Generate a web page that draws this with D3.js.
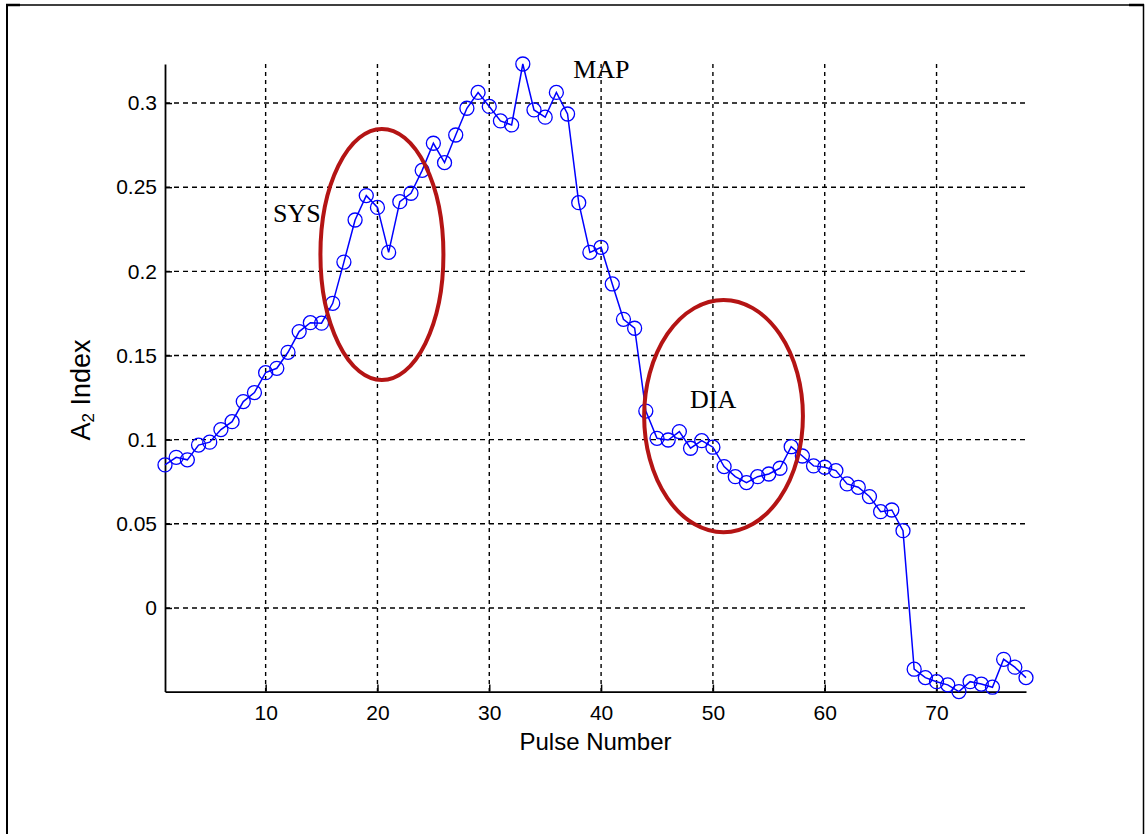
<!DOCTYPE html>
<html>
<head>
<meta charset="utf-8">
<script src="https://cdnjs.cloudflare.com/ajax/libs/d3/7.8.5/d3.min.js"></script>
<style>
  body { margin: 0; background: #fff; }
  svg { display: block; }
  .tick text { font-family: Arial, "Liberation Sans", sans-serif; font-size: 21px; fill: #000; }
  .axis-label { font-family: Arial, "Liberation Sans", sans-serif; fill: #000; }
  .note { font-family: "Liberation Serif", "Times New Roman", serif; font-size: 26px; fill: #000; }
</style>
</head>
<body>
<div id="chart"></div>
<script>
//DATA
var pulse = [1, 2, 3, 4, 5, 6, 7, 8, 9, 10, 11, 12, 13, 14, 15, 16, 17, 18, 19, 20,
  21, 22, 23, 24, 25, 26, 27, 28, 29, 30, 31, 32, 33, 34, 35, 36, 37, 38, 39, 40,
  41, 42, 43, 44, 45, 46, 47, 48, 49, 50, 51, 52, 53, 54, 55, 56, 57, 58, 59, 60,
  61, 62, 63, 64, 65, 66, 67, 68, 69, 70, 71, 72, 73, 74, 75, 76, 77, 78];

var a2Index = [0.085, 0.0895, 0.088, 0.0968, 0.0985, 0.106, 0.1107, 0.1226, 0.128, 0.1398,
  0.1424, 0.1519, 0.1642, 0.1695, 0.1692, 0.181, 0.2055, 0.2305, 0.245, 0.238,
  0.2113, 0.2414, 0.2464, 0.260, 0.2761, 0.2646, 0.281, 0.2969, 0.3063, 0.298,
  0.2894, 0.287, 0.3232, 0.2959, 0.2916, 0.3063, 0.2935, 0.2408, 0.2113, 0.2143,
  0.1925, 0.1715, 0.1662, 0.117, 0.1008, 0.0998, 0.1048, 0.0949, 0.0994, 0.0955,
  0.084, 0.078, 0.0745, 0.078, 0.0796, 0.083, 0.0958, 0.0903, 0.0844, 0.0836,
  0.0816, 0.0737, 0.0717, 0.0662, 0.0572, 0.0582, 0.0459, -0.0364, -0.0414, -0.0438,
  -0.0457, -0.0497, -0.0438, -0.0452, -0.0471, -0.0305, -0.0352, -0.0414];

var xTickValues = [10, 20, 30, 40, 50, 60, 70];
var yTickValues = [0, 0.05, 0.1, 0.15, 0.2, 0.25, 0.3];
var yTickLabels = ['0', '0.05', '0.1', '0.15', '0.2', '0.25', '0.3'];

//annotations, in data units (pulse / index)
var noteText = ['SYS', 'MAP', 'DIA'];
var notePulse = [10.66, 37.5, 47.96];
var noteIndex = [0.2293, 0.315, 0.1188];

var ringPulse = [20.4, 50.95];
var ringIndex = [0.210, 0.114];
var ringPulseRadius = [5.5, 7.1];
var ringIndexRadius = [0.0746, 0.069];

//SET UP
var width = 1145,
    height = 834;

var margin = {left: 165, right: 119, top: 64, bottom: 142.4};

var svg = d3.select('#chart').append('svg')
    .attr('width', width)
    .attr('height', height);

svg.append('rect')
    .attr('width', width)
    .attr('height', height)
    .attr('fill', '#fff');

//page frame (table cell border)
svg.append('path')
    .attr('d', 'M7,' + (height + 2) + 'V5H1143.5V' + (height + 2))
    .attr('fill', 'none')
    .attr('stroke', '#000')
    .attr('stroke-width', 1.5);
svg.append('line').attr('x1', 6).attr('x2', 20).attr('y1', 5).attr('y2', 5)
    .attr('stroke', '#000').attr('stroke-width', 2.5);
svg.append('line').attr('x1', 1129).attr('x2', 1144).attr('y1', 5).attr('y2', 5)
    .attr('stroke', '#000').attr('stroke-width', 2.5);
svg.append('line').attr('x1', 7).attr('x2', 7).attr('y1', 5).attr('y2', height)
    .attr('stroke', '#000').attr('stroke-width', 2);

var x = d3.scaleLinear()
    .domain(d3.extent(pulse))
    .range([margin.left, width - margin.right]);

var y = d3.scaleLinear()
    .domain(d3.extent(a2Index))
    .range([height - margin.bottom, margin.top]);

//GRID
var grid = svg.append('g')
    .attr('stroke', '#000')
    .attr('stroke-width', 1.4)
    .attr('stroke-dasharray', '5,4');

grid.selectAll('.hgrid')
    .data(yTickValues)
  .enter().append('line')
    .attr('class', 'hgrid')
    .attr('x1', x.range()[0])
    .attr('x2', x.range()[1])
    .attr('y1', function (d) { return y(d); })
    .attr('y2', function (d) { return y(d); });

grid.selectAll('.vgrid')
    .data(xTickValues)
  .enter().append('line')
    .attr('class', 'vgrid')
    .attr('stroke-dasharray', '4,4')
    .attr('x1', function (d) { return x(d); })
    .attr('x2', function (d) { return x(d); })
    .attr('y1', y.range()[1])
    .attr('y2', y.range()[0]);

//AXES
var xAxis = d3.axisBottom(x)
    .tickValues(xTickValues)
    .tickSizeInner(-7)
    .tickSizeOuter(0)
    .tickPadding(13);

var yAxis = d3.axisLeft(y)
    .tickValues(yTickValues)
    .tickFormat(function (d, i) { return yTickLabels[i]; })
    .tickSizeInner(-7)
    .tickSizeOuter(0)
    .tickPadding(8);

var gx = svg.append('g')
    .attr('transform', 'translate(0,' + y.range()[0] + ')')
    .call(xAxis);

var gy = svg.append('g')
    .attr('transform', 'translate(' + x.range()[0] + ',0)')
    .call(yAxis);

[gx, gy].forEach(function (g) {
  g.attr('font-family', null).attr('font-size', null);
  g.select('.domain').attr('stroke', '#000').attr('stroke-width', 1.8);
  g.selectAll('.tick line').attr('stroke', '#000').attr('stroke-width', 1.5);
});

svg.append('text')
    .attr('class', 'axis-label')
    .attr('x', (x.range()[0] + x.range()[1]) / 2)
    .attr('y', 750)
    .attr('text-anchor', 'middle')
    .attr('font-size', 24)
    .text('Pulse Number');

var yLabel = svg.append('text')
    .attr('class', 'axis-label')
    .attr('transform', 'translate(90,390) rotate(-90)')
    .attr('text-anchor', 'middle')
    .attr('font-size', 27);
yLabel.append('tspan').text('A');
yLabel.append('tspan').attr('font-size', 17).attr('dy', 4).text('2');
yLabel.append('tspan').attr('dy', -4).text(' Index');

//DATA LINE + MARKERS
var line = d3.line()
    .x(function (d, i) { return x(pulse[i]); })
    .y(function (d) { return y(d); });

svg.append('path')
    .datum(a2Index)
    .attr('d', line)
    .attr('fill', 'none')
    .attr('stroke', '#0000ff')
    .attr('stroke-width', 1.5);

svg.selectAll('.marker')
    .data(a2Index)
  .enter().append('circle')
    .attr('class', 'marker')
    .attr('cx', function (d, i) { return x(pulse[i]); })
    .attr('cy', function (d) { return y(d); })
    .attr('r', 7)
    .attr('fill', 'none')
    .attr('stroke', '#0000ff')
    .attr('stroke-width', 1.3);

//ANNOTATIONS
svg.selectAll('.ring')
    .data(ringPulse)
  .enter().append('ellipse')
    .attr('class', 'ring')
    .attr('cx', function (d) { return x(d); })
    .attr('cy', function (d, i) { return y(ringIndex[i]); })
    .attr('rx', function (d, i) { return x(d + ringPulseRadius[i]) - x(d); })
    .attr('ry', function (d, i) { return y(ringIndex[i] - ringIndexRadius[i]) - y(ringIndex[i]); })
    .attr('fill', 'none')
    .attr('stroke', '#b41414')
    .attr('stroke-width', 4);

svg.selectAll('.note')
    .data(noteText)
  .enter().append('text')
    .attr('class', 'note')
    .attr('x', function (d, i) { return x(notePulse[i]); })
    .attr('y', function (d, i) { return y(noteIndex[i]); })
    .text(function (d) { return d; });
</script>
</body>
</html>
